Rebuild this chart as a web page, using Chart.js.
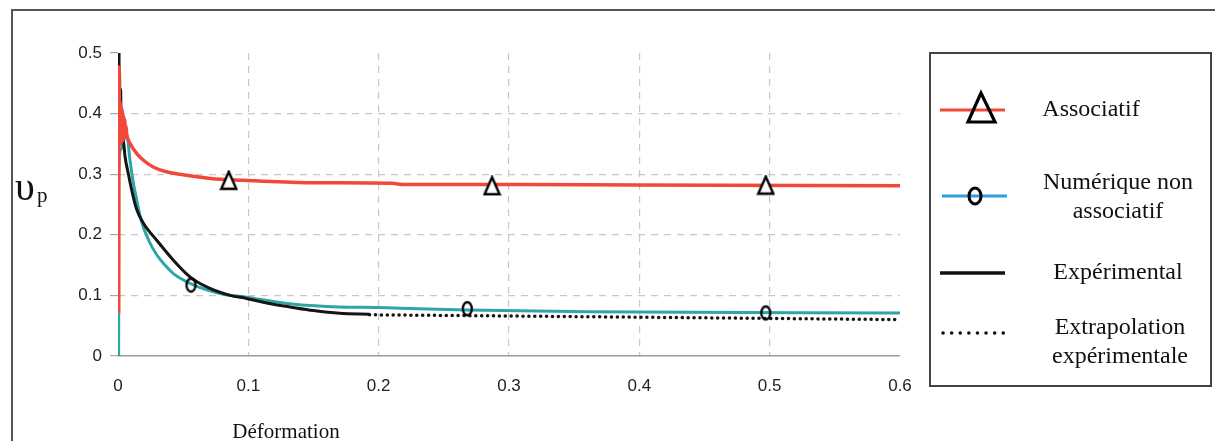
<!DOCTYPE html>
<html>
<head>
<meta charset="utf-8">
<script src="https://cdn.jsdelivr.net/npm/chart.js@4/dist/chart.umd.min.js"></script>
<style>
  html, body { margin: 0; padding: 0; background: #fff; }
  canvas { display: block; }
</style>
</head>
<body>
<canvas id="chart" width="1215" height="441"></canvas>
<script>
// values (Déformation -> coefficient)
const assocX = [0.0005, 0.0006, 0.0009, 0.0011, 0.0014, 0.0017, 0.002, 0.0023, 0.0026, 0.0029, 0.0032, 0.0035, 0.0038, 0.0041, 0.0044, 0.0048, 0.0052, 0.0056, 0.006, 0.0067, 0.0092, 0.0144, 0.0195, 0.027, 0.037, 0.05, 0.071, 0.096, 0.145, 0.21, 0.22, 0.3, 0.4, 0.6];
const assocY = [0.07, 0.26, 0.477, 0.35, 0.42, 0.35, 0.415, 0.352, 0.41, 0.355, 0.405, 0.355, 0.40, 0.358, 0.395, 0.36, 0.39, 0.362, 0.38, 0.366, 0.351, 0.334, 0.323, 0.312, 0.304, 0.299, 0.293, 0.29, 0.286, 0.285, 0.283, 0.283, 0.282, 0.281];

const numX = [0.0005, 0.0006, 0.002, 0.005, 0.0067, 0.0092, 0.0118, 0.0144, 0.018, 0.0235, 0.0297, 0.036, 0.0425, 0.055, 0.068, 0.081, 0.0987, 0.119, 0.137, 0.17, 0.2, 0.23, 0.268, 0.36, 0.6];
const numY = [0, 0.3, 0.34, 0.36, 0.365, 0.323, 0.285, 0.257, 0.222, 0.191, 0.167, 0.15, 0.136, 0.12, 0.109, 0.102, 0.097, 0.09, 0.085, 0.081, 0.08, 0.078, 0.076, 0.073, 0.071];

const expX = [0.0008, 0.00082, 0.0012, 0.0015, 0.002, 0.0025, 0.004, 0.0054, 0.008, 0.0105, 0.0143, 0.0195, 0.0297, 0.0425, 0.055, 0.068, 0.086, 0.0987, 0.115, 0.132, 0.15, 0.17, 0.193];
const expY = [0.5, 0.42, 0.47, 0.38, 0.44, 0.36, 0.356, 0.329, 0.3, 0.274, 0.242, 0.219, 0.191, 0.158, 0.131, 0.114, 0.1, 0.095, 0.087, 0.081, 0.075, 0.0705, 0.069];

const extraX = [0.193, 0.3, 0.4, 0.5, 0.6];
const extraY = [0.068, 0.066, 0.064, 0.062, 0.06];

const triX = [0.085, 0.287, 0.497];
const triY = [0.29, 0.281, 0.282];
const circX = [0.056, 0.268, 0.497];
const circY = [0.117, 0.078, 0.071];

const xTicks = [0, 0.1, 0.2, 0.3, 0.4, 0.5, 0.6];
const yTicks = [0, 0.1, 0.2, 0.3, 0.4, 0.5];

const legendLabels = [['Associatif'], ['Numérique non', 'associatif'], ['Expérimental'], ['Extrapolation', 'expérimentale']];
const xTitle = 'Déformation';

const RED = '#f1483a';
const TEAL = '#2ea6a8';
const SERIF = '"Liberation Serif", "Times New Roman", serif';

function pts(xs, ys) {
  return xs.map((x, i) => ({x: x, y: ys[i]}));
}

// hollow triangle marker
function triangleGlyph(w, h, lw) {
  const c = document.createElement('canvas');
  c.width = w + 4; c.height = h + 4;
  const g = c.getContext('2d');
  g.beginPath();
  g.moveTo(c.width / 2, 2);
  g.lineTo(2, h + 2);
  g.lineTo(w + 2, h + 2);
  g.closePath();
  g.fillStyle = '#fff';
  g.fill();
  g.lineWidth = lw;
  g.lineJoin = 'miter';
  g.strokeStyle = '#000';
  g.stroke();
  return c;
}

function ovalGlyph(rx, ry, lw) {
  const c = document.createElement('canvas');
  c.width = rx * 2 + lw * 2 + 2; c.height = ry * 2 + lw * 2 + 2;
  const g = c.getContext('2d');
  g.beginPath();
  g.ellipse(c.width / 2, c.height / 2, rx, ry, 0, 0, Math.PI * 2);
  g.lineWidth = lw;
  g.strokeStyle = '#000';
  g.stroke();
  return c;
}

const triImg = triangleGlyph(15, 17, 2.4);
const ovalImg = ovalGlyph(4.5, 6.5, 2.3);

const decor = {
  id: 'decor',
  beforeDraw(chart) {
    const ctx = chart.ctx;
    ctx.save();
    ctx.fillStyle = '#fff';
    ctx.fillRect(0, 0, chart.width, chart.height);
    ctx.restore();
  },
  afterDraw(chart) {
    const ctx = chart.ctx;
    ctx.save();
    // outer frame
    ctx.strokeStyle = '#555';
    ctx.lineWidth = 2;
    ctx.beginPath();
    ctx.moveTo(12, 441);
    ctx.lineTo(12, 10);
    ctx.lineTo(1215, 10);
    ctx.stroke();

    // y title
    ctx.fillStyle = '#111';
    ctx.textBaseline = 'alphabetic';
    ctx.textAlign = 'left';
    ctx.font = '40px ' + SERIF;
    ctx.fillText('υ', 15, 200);
    ctx.font = '21px ' + SERIF;
    ctx.fillText('p', 37, 202);

    // x title
    ctx.font = '21px ' + SERIF;
    ctx.textAlign = 'center';
    ctx.fillText(xTitle, 286, 438);

    // legend box
    ctx.strokeStyle = '#444';
    ctx.lineWidth = 2;
    ctx.strokeRect(930, 53, 281, 333);

    const symY = [110, 196, 273, 333];
    const textY = [[110], [183, 212], [273], [328, 357]];
    const textX = [1091, 1118, 1118, 1120];
    ctx.lineCap = 'butt';
    // Associatif
    ctx.strokeStyle = RED; ctx.lineWidth = 3;
    ctx.beginPath(); ctx.moveTo(940, symY[0]); ctx.lineTo(1005, symY[0]); ctx.stroke();
    ctx.strokeStyle = '#000'; ctx.lineWidth = 3.2; ctx.lineJoin = 'miter';
    ctx.beginPath(); ctx.moveTo(981, 93); ctx.lineTo(968, 122); ctx.lineTo(995, 122); ctx.closePath(); ctx.stroke();
    // Numérique
    ctx.strokeStyle = '#2fa0dc'; ctx.lineWidth = 3;
    ctx.beginPath(); ctx.moveTo(942, symY[1]); ctx.lineTo(1007, symY[1]); ctx.stroke();
    ctx.strokeStyle = '#000'; ctx.lineWidth = 3;
    ctx.beginPath(); ctx.ellipse(975, symY[1], 6, 8, 0, 0, Math.PI * 2); ctx.stroke();
    // Expérimental
    ctx.strokeStyle = '#111'; ctx.lineWidth = 3.5;
    ctx.beginPath(); ctx.moveTo(940, symY[2]); ctx.lineTo(1005, symY[2]); ctx.stroke();
    // Extrapolation
    ctx.lineWidth = 3.5; ctx.lineCap = 'round'; ctx.setLineDash([0.1, 8.5]);
    ctx.beginPath(); ctx.moveTo(943, symY[3]); ctx.lineTo(1004, symY[3]); ctx.stroke();
    ctx.setLineDash([]);

    ctx.fillStyle = '#111';
    ctx.font = '24px ' + SERIF;
    ctx.textAlign = 'center';
    ctx.textBaseline = 'middle';
    legendLabels.forEach((lines, i) => {
      lines.forEach((t, j) => ctx.fillText(t, textX[i], textY[i][j]));
    });
    ctx.restore();
  }
};

const ctx = document.getElementById('chart').getContext('2d');
new Chart(ctx, {
  type: 'scatter',
  data: {
    datasets: [
      {label: 'tri', data: pts(triX, triY), pointStyle: triImg, pointRadius: 9, showLine: false},
      {label: 'circ', data: pts(circX, circY), pointStyle: ovalImg, pointRadius: 6, showLine: false},
      {label: 'Associatif', data: pts(assocX, assocY), showLine: true, borderColor: RED, borderWidth: 3.5, pointRadius: 0, cubicInterpolationMode: 'monotone'},
      {label: 'Expérimental', data: pts(expX, expY), showLine: true, borderColor: '#151515', borderWidth: 3, pointRadius: 0, cubicInterpolationMode: 'monotone'},
      {label: 'Numérique non associatif', data: pts(numX, numY), showLine: true, borderColor: TEAL, borderWidth: 3, pointRadius: 0, cubicInterpolationMode: 'monotone'},
      {label: 'Extrapolation expérimentale', data: pts(extraX, extraY), showLine: true, borderColor: '#151515', borderWidth: 3.5, borderDash: [0.1, 5.8], borderCapStyle: 'round', pointRadius: 0, tension: 0}
    ]
  },
  options: {
    responsive: false,
    animation: false,
    events: [],
    layout: {padding: {left: 0, top: 53, right: 315, bottom: 0}},
    plugins: {legend: {display: false}, tooltip: {enabled: false}},
    scales: {
      x: {
        type: 'linear', min: 0, max: 0.6,
        afterBuildTicks: s => { s.ticks = xTicks.map(v => ({value: v})); },
        afterFit: s => { s.height = 85; },
        ticks: {font: {family: '"Liberation Sans", Arial, sans-serif', size: 17}, color: '#222', padding: 20,
          callback: v => String(v)},
        grid: {
          drawTicks: false,
          color: c => (c.tick && c.tick.value > 0.05 && c.tick.value < 0.55) ? '#c8c8c8' : 'rgba(0,0,0,0)',
          lineWidth: 1.2
        },
        border: {display: true, color: '#9a9a9a', width: 1.5, dash: [7, 6]}
      },
      y: {
        type: 'linear', min: 0, max: 0.5,
        afterBuildTicks: s => { s.ticks = yTicks.map(v => ({value: v})); },
        afterFit: s => { s.width = 118; },
        ticks: {font: {family: '"Liberation Sans", Arial, sans-serif', size: 17}, color: '#222', padding: 8,
          callback: v => String(v)},
        grid: {
          drawTicks: true, tickLength: 8, tickColor: '#a8a8a8', tickWidth: 1.2,
          color: c => (c.tick && c.tick.value > 0.05 && c.tick.value < 0.45) ? '#c8c8c8' : 'rgba(0,0,0,0)',
          lineWidth: 1.2
        },
        border: {display: false, dash: [7, 6]}
      }
    }
  },
  plugins: [decor]
});
</script>
</body>
</html>
